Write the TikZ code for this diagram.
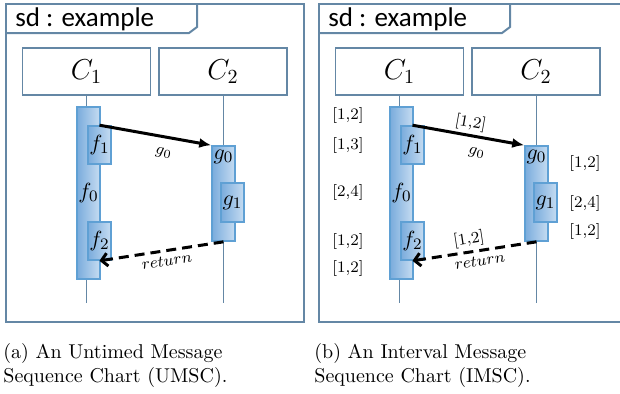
\documentclass[tikz,border=0pt]{standalone}
\usepackage{amsmath}
\usepackage{fontspec}
\usetikzlibrary{arrows.meta,positioning}
\newfontfamily\calibri{Carlito}
\definecolor{actleft}{RGB}{122,172,220}
\definecolor{actright}{RGB}{198,220,242}
\definecolor{actline}{RGB}{95,160,212}
\definecolor{framecol}{RGB}{100,135,165}

\begin{document}
\begin{tikzpicture}[x=0.5pt, y=-0.5pt,
    chartframe/.style = {draw=framecol, line width=1pt},
    instbox/.style = {draw=framecol, line width=0.8pt, minimum width=64pt, minimum height=23.5pt, font=\fontsize{14}{16}\selectfont},
    act/.style = {draw=actline, line width=0.8pt, left color=actleft, right color=actright, minimum width=11.5pt, inner sep=0pt, font=\fontsize{11}{13}\selectfont},
    lifeln/.style = {draw=framecol, line width=0.5pt},
    msg/.style = {draw, line width=1.5pt, -{Latex[length=6pt,width=5pt]}},
    ret/.style = {draw, line width=1.5pt, dash pattern=on 5pt off 3pt, {Straight Barb[length=3pt,width=6.5pt]}-},
    lbl/.style = {font=\footnotesize, inner sep=2pt},
    ival/.style = {font=\footnotesize, inner sep=0pt},
    caption/.style = {anchor=north west, align=left, inner sep=0pt}]
    \useasboundingbox (0,0) rectangle (620,393);

    \foreach \p/\dx/\fr in {a/0/304, b/313/327} {
    \begin{scope}[shift={(\dx,0)}, name prefix=\p-]
        \draw[chartframe] (6,4) rectangle (\fr,322);
        \draw[chartframe] (6,33) -- (189,33) -- (197,27) -- (197,4);
        \node[anchor=west, inner sep=0pt, font=\calibri\fontsize{13.5}{16}\selectfont] (title) at (15,19) {sd : example};

        \node[instbox] (c1) at (86.5,71.5) {$C_1$};
        \node[instbox] (c2) at (223,71.5) {$C_2$};
        \coordinate (c1end) at (86.5,303);
        \coordinate (c2end) at (223,303);
        \draw[lifeln] (c1) -- (c1end);
        \draw[lifeln] (c2) -- (c2end);

        \node[act, minimum height=86pt] (f0) at (88.5,193) {$f_0$};
        \node[act, minimum height=19pt] (f1) at (99.5,145) {$f_1$};
        \node[act, minimum height=19pt] (f2) at (99.5,241) {$f_2$};
        \node[act, minimum height=47.5pt] (g0) at (223.5,193.5) {};
        \node[below=2pt of g0.north, inner sep=0pt, font=\fontsize{11}{13}\selectfont] (g0lbl) {$g_0$};
        \node[act, minimum height=19.5pt] (g1) at (232.5,202.5) {$g_1$};

        \draw[msg] (f1.north) -- (g0.north west) node[lbl, pos=0.6, below=3pt, sloped] {$g_0$};
        \draw[ret] (f2.south) -- (g0.south) node[lbl, pos=0.53, below, sloped] {$return$};
    \end{scope}
    }

    \path (b-f1.north) -- (b-g0.north west) node[lbl, pos=0.5, above, sloped] {[1,2]};
    \path (b-f2.south) -- (b-g0.south) node[lbl, pos=0.47, above, sloped] {[1,2]};

    \node[ival] (iv1) at (348,115) {[1,2]};
    \node[ival] (iv2) at (348,145) {[1,3]};
    \node[ival] (iv3) at (348,192) {[2,4]};
    \node[ival] (iv4) at (348,241) {[1,2]};
    \node[ival] (iv5) at (348,268) {[1,2]};
    \node[ival] (iv6) at (585,163) {[1,2]};
    \node[ival] (iv7) at (585,203) {[2,4]};
    \node[ival] (iv8) at (585,231) {[1,2]};

    \node[caption] (capa) at (3,343) {(a) An Untimed Message\\Sequence Chart (UMSC).};
    \node[caption] (capb) at (314,343) {(b) An Interval Message\\Sequence Chart (IMSC).};
\end{tikzpicture}
\end{document}
